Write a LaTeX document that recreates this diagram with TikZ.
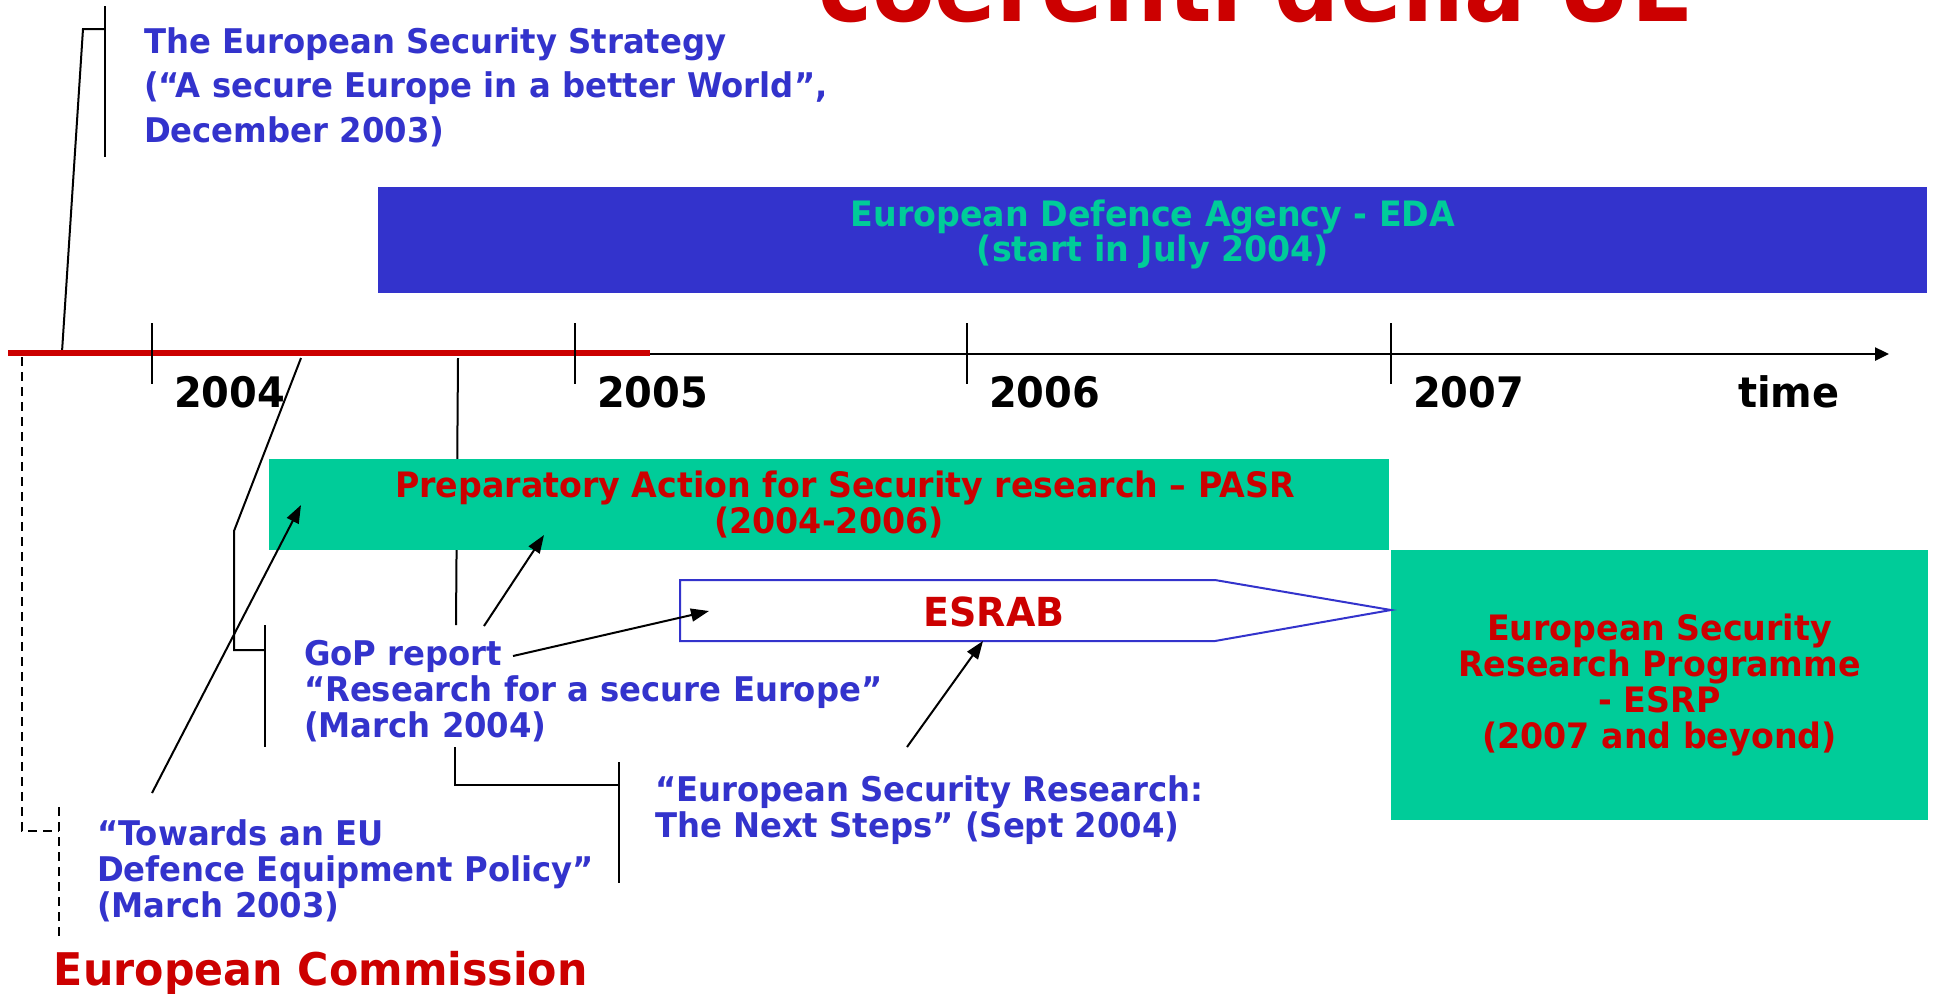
\documentclass[tikz,border=0pt]{standalone}
\usepackage{fontspec}
\setmainfont{DejaVu Sans}[FakeStretch=0.95]
\usepackage{tikz}
\usetikzlibrary{arrows.meta, calc}

\definecolor{eblue}{HTML}{3333CC}
\definecolor{egreen}{HTML}{00CC99}
\definecolor{ered}{HTML}{CC0000}

\tikzset{
  lbl/.style={text=eblue, font=\bfseries\fontsize{17}{18}\selectfont, align=left, anchor=base west, inner sep=0pt},
  yearlbl/.style={font=\bfseries\fontsize{21}{21}\selectfont, anchor=base west, inner sep=0pt},
  bar/.style={fill=egreen, text=ered, inner sep=0pt, align=center, font=\bfseries\fontsize{17.5}{18}\selectfont},
  arr/.style={->, line width=1pt},
  cmline/.style={line width=0.9pt, dash pattern=on 4.5pt off 3pt},
}

\begin{document}
\begin{tikzpicture}[x=0.5pt, y=-0.5pt, >={Triangle[length=9pt, width=6.5pt]}, line width=1pt]

  \useasboundingbox (0,0) rectangle (1937,993);

  % title, cut off by the page
  \begin{scope}
    \clip (0,0) rectangle (1937,993);
    \node[text=ered, font=\bfseries\fontsize{48}{48}\selectfont, anchor=base west, inner sep=0pt] (title) at (817,21) {coerenti della UE};
  \end{scope}

  % points on the time axis
  \coordinate (dec03) at (62,352);
  \coordinate (mar04) at (301,358);
  \coordinate (sep04) at (458,358);

  % lines from the axis down to the documents
  \draw (dec03) -- (83,29) -- (105,29);
  \draw (105,6) -- (105,157);
  \draw (mar04) -- (234,531) |- (265,650);
  \draw (265,625) -- (265,747);
  \draw (sep04) -- (456,625);
  \draw (455,747) |- (619,785);
  \draw (619,762) -- (619,883);
  \draw[cmline] (22,357) |- (59,831);
  \draw[cmline] (59,807) -- (59,940);

  % time axis
  \draw[line width=1.2pt, -{Triangle[length=7pt, width=6.5pt]}] (8,354) -- (1889,354);
  \draw[ered, line width=3pt] (8,353) -- (650,353);
  \foreach \x/\yr in {152/2004, 575/2005, 967/2006, 1391/2007} {
    \draw (\x,323) -- (\x,384);
    \node[yearlbl] (y\yr) at (\x+21,407) {\yr};
  }
  \node[yearlbl] (time) at (1737,407) {time};

  % bars
  \node[bar, fill=eblue, minimum width=774.5pt, minimum height=53pt] (eda) at (1152.5,240) {};
  \node[text=egreen, align=center, inner sep=0pt, font=\bfseries\fontsize{17.5}{17.5}\selectfont] (edatxt) at (1153,234)
        {European Defence Agency - EDA\\(start in July 2004)};
  \node[bar, minimum width=560pt, minimum height=45.5pt] (pasr) at (829,504.5)
        {\hspace*{16pt}Preparatory Action for Security research – PASR\\(2004-2006)};
  \node[bar, minimum width=268.5pt, minimum height=135pt] (esrp) at (1659.5,685)
        {European Security\\Research Programme\\- ESRP\\(2007 and beyond)};

  % ESRAB pointing into the programme
  \coordinate (esrp1) at (1391,610);
  \draw[eblue, fill=white, line width=1pt] (680,580) -- (1215,580) -- (esrp1) -- (1215,641) -- (680,641) -- cycle;
  \node[text=ered, font=\bfseries\fontsize{20}{20}\selectfont, inner sep=0pt] (esrab) at (994,612) {ESRAB};

  % documents
  \node[lbl, font=\bfseries\fontsize{17}{22.25}\selectfont] (ess) at (143,142)
        {The European Security Strategy\\(“A secure Europe in a better World”,\\December 2003)};
  \node[lbl] (gop) at (303,737) {GoP report\\“Research for a secure Europe”\\(March 2004)};
  \node[lbl] (sept) at (654,837) {“European Security Research:\\The Next Steps” (Sept 2004)};
  \node[lbl] (towards) at (96,917) {“Towards an EU\\Defence Equipment Policy”\\(March 2003)};
  \node[lbl, text=ered, font=\bfseries\fontsize{22.5}{22.5}\selectfont] (ec) at (53,985) {European Commission};

  % arrows
  \coordinate (tw1) at (152,793);
  \coordinate (pasr1) at (301,505);
  \coordinate (gop1) at (484,626);
  \coordinate (pasr2) at (544,535);
  \coordinate (gop2) at (513,656);
  \coordinate (esrab1) at (709,611);
  \coordinate (sept1) at (907,747);
  \coordinate (esrab2) at (983,641);
  \draw[arr] (tw1) -- (pasr1);
  \draw[arr] (gop1) -- (pasr2);
  \draw[arr] (gop2) -- (esrab1);
  \draw[arr] (sept1) -- (esrab2);

\end{tikzpicture}
\end{document}
